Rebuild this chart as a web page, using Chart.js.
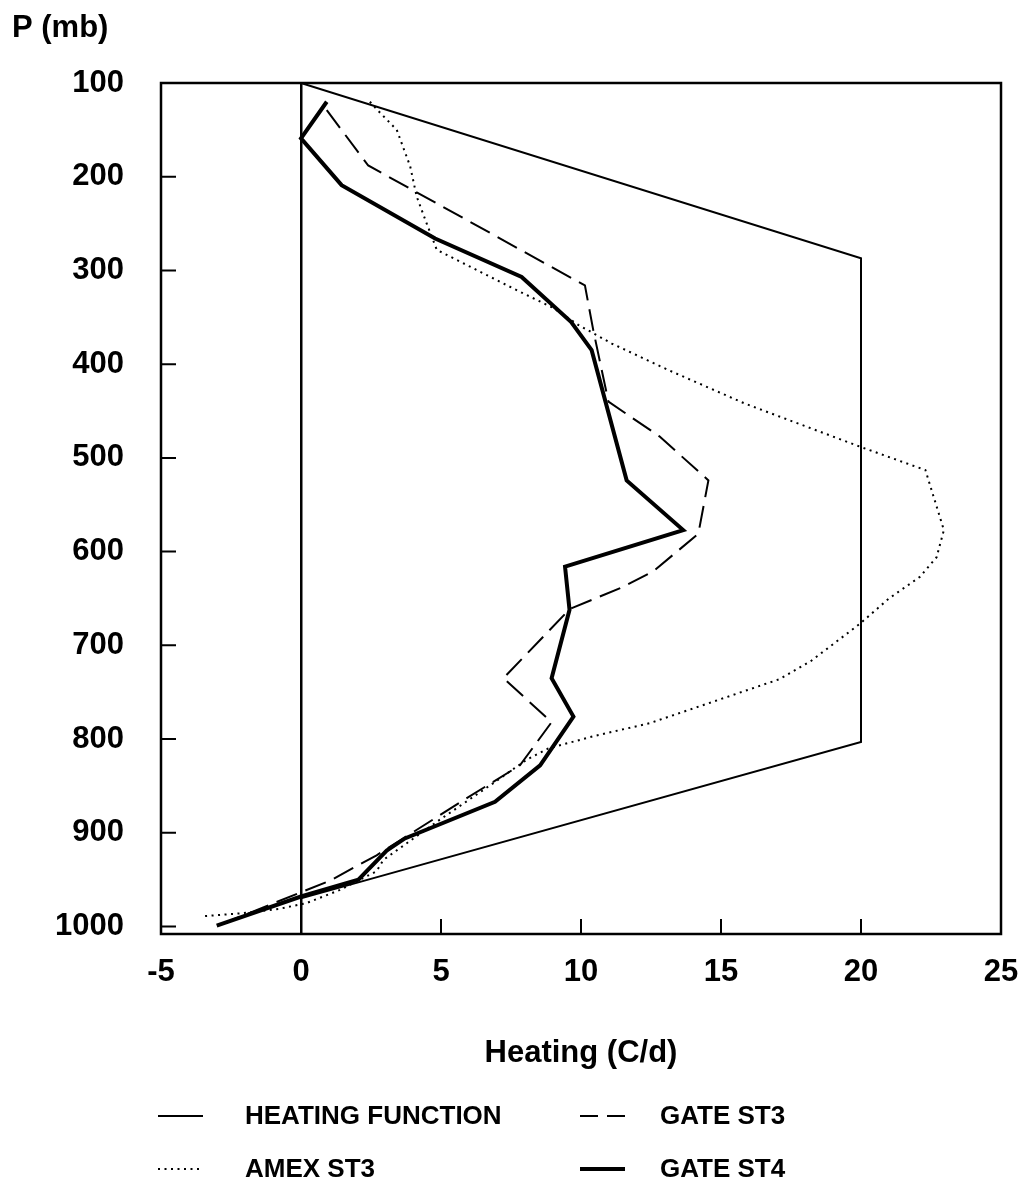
<!DOCTYPE html>
<html>
<head>
<meta charset="utf-8">
<script src="https://cdn.jsdelivr.net/npm/chart.js@4.4.1/dist/chart.umd.min.js"></script>
<style>
html,body{margin:0;padding:0;background:#fff;}
#wrap{width:1026px;height:1192px;position:relative;}
</style>
</head>
<body>
<div id="wrap"><canvas id="c"></canvas></div>
<script>
// ---- data (heating in C/d, pressure in mb) ----
const xTicks = [-5, 0, 5, 10, 15, 20, 25];
const yTicks = [100, 200, 300, 400, 500, 600, 700, 800, 900, 1000];

const seriesNames = ['HEATING FUNCTION', 'AMEX ST3', 'GATE ST3', 'GATE ST4'];

const heatX = [0, 20, 20, 0];
const heatP = [100, 287, 803, 970];

const amexX = [2.46, 2.8, 3.42, 3.9, 4.13, 4.49, 4.85, 6.04, 7.7, 9.01, 9.9, 11.1, 13.1, 15.85, 19.96, 22.3, 22.96, 22.7, 22.1, 21.0, 19.96, 18.2, 17.1, 12.46, 10.44, 8.83, 8.06, 6.87, 4.96, 2.94, 2.7, 1.39, 0.2, -0.75, -2.18, -3.49];
const amexP = [120, 131, 150, 189, 221, 250, 278, 296, 321, 340, 358, 378, 406, 442, 488, 513, 577, 606, 627, 650, 677, 717, 736, 783, 797, 810, 822, 847, 886, 929, 941, 961, 975, 981, 986, 989];

const gate3X = [0.92, 2.4, 10.14, 10.44, 10.98, 12.8, 14.55, 14.19, 12.58, 11.4, 9.61, 7.23, 8.95, 7.82, 5.92, 2.7, 1.04, -2.8];
const gate3P = [129, 188, 316, 364, 440, 477, 524, 581, 621, 639, 661, 735, 782, 828, 863, 924, 951, 997];

const gate4X = [0.92, 0, 1.45, 4.79, 7.88, 9.65, 10.38, 11.63, 13.65, 9.43, 9.59, 8.95, 9.73, 8.54, 6.93, 3.71, 3.06, 2.05, 0, -3.01];
const gate4P = [120, 159, 209, 266, 307, 355, 385, 524, 577, 616, 662, 735, 776, 828, 867, 906, 919, 950, 968, 999];

// ---- helpers ----
const FONT = '"Liberation Sans", Arial, Helvetica, sans-serif';
function pts(xs, ps) { return xs.map((x, i) => ({ x: x, y: ps[i] })); }

const styles = [
  { borderWidth: 2, borderDash: [], legendDash: [] },
  { borderWidth: 2, borderDash: [2, 4.5], legendDash: [2, 4.5] },
  { borderWidth: 2, borderDash: [22, 9], legendDash: [18, 9] },
  { borderWidth: 4, borderDash: [], legendDash: [] }
];

const datasets = [
  pts(heatX, heatP), pts(amexX, amexP), pts(gate3X, gate3P), pts(gate4X, gate4P)
].map((d, i) => ({
  label: seriesNames[i],
  data: d,
  borderColor: '#000',
  backgroundColor: '#000',
  borderWidth: styles[i].borderWidth,
  borderDash: styles[i].borderDash,
  legendDash: styles[i].legendDash,
  pointRadius: 0,
  pointHoverRadius: 0,
  tension: 0,
  fill: false
}));

const framePlugin = {
  id: 'frameTicksLegend',
  afterDraw(chart) {
    const ctx = chart.ctx;
    const a = chart.chartArea;
    const xs = chart.scales.x, ys = chart.scales.y;
    ctx.save();
    ctx.strokeStyle = '#000';
    ctx.setLineDash([]);
    // frame
    ctx.lineWidth = 2.5;
    ctx.strokeRect(a.left, a.top, a.right - a.left, a.bottom - a.top);
    // inward tick marks
    ctx.lineWidth = 2;
    ctx.beginPath();
    xTicks.forEach(v => {
      if (v <= xs.min || v >= xs.max) return;
      const px = xs.getPixelForValue(v);
      ctx.moveTo(px, a.bottom);
      ctx.lineTo(px, a.bottom - 15);
    });
    yTicks.forEach(v => {
      if (v <= ys.min) return;
      const py = ys.getPixelForValue(v);
      ctx.moveTo(a.left, py);
      ctx.lineTo(a.left + 15, py);
    });
    ctx.stroke();
    // legend (two columns)
    const layout = [
      { ds: 0, sx: 158, tx: 245, y: 1116 },
      { ds: 2, sx: 580, tx: 660, y: 1116 },
      { ds: 1, sx: 158, tx: 245, y: 1169 },
      { ds: 3, sx: 580, tx: 660, y: 1169 }
    ];
    ctx.font = 'bold 26px ' + FONT;
    ctx.textBaseline = 'middle';
    ctx.textAlign = 'left';
    ctx.fillStyle = '#000';
    layout.forEach(it => {
      const ds = chart.data.datasets[it.ds];
      ctx.lineWidth = ds.borderWidth;
      ctx.setLineDash(ds.legendDash);
      ctx.beginPath();
      ctx.moveTo(it.sx, it.y);
      ctx.lineTo(it.sx + 45, it.y);
      ctx.stroke();
      ctx.setLineDash([]);
      ctx.fillText(ds.label, it.tx, it.y + 1);
    });
    ctx.restore();
  }
};

new Chart(document.getElementById('c'), {
  type: 'line',
  data: { datasets: datasets },
  plugins: [framePlugin],
  options: {
    responsive: true,
    maintainAspectRatio: false,
    animation: false,
    devicePixelRatio: 1,
    layout: { padding: { left: 12, right: 25, top: 0, bottom: 0 } },
    plugins: {
      legend: { display: false },
      tooltip: { enabled: false },
      title: {
        display: true,
        text: 'P (mb)',
        align: 'start',
        color: '#000',
        font: { family: FONT, size: 31, weight: 'bold', lineHeight: 1.2 },
        padding: { top: 10, bottom: 35.8 }
      }
    },
    scales: {
      x: {
        type: 'linear',
        position: 'bottom',
        min: -5,
        max: 25,
        afterBuildTicks: s => { s.ticks = xTicks.map(v => ({ value: v })); },
        afterFit: s => { s.height = 258; s.paddingLeft = 0; s.paddingRight = 0; },
        border: { display: false },
        grid: {
          drawTicks: false,
          drawOnChartArea: true,
          color: c => (c.tick && c.tick.value === 0) ? '#000' : 'rgba(0,0,0,0)',
          lineWidth: 2.5
        },
        ticks: {
          color: '#000',
          padding: 20,
          maxRotation: 0,
          font: { family: FONT, size: 31, weight: 'bold' },
          callback: v => String(v)
        },
        title: {
          display: true,
          text: 'Heating (C/d)',
          color: '#000',
          font: { family: FONT, size: 31, weight: 'bold', lineHeight: 1.2 },
          padding: { top: 0, bottom: 120 }
        }
      },
      y: {
        type: 'linear',
        position: 'left',
        reverse: true,
        min: 100,
        max: 1008,
        afterBuildTicks: s => { s.ticks = yTicks.map(v => ({ value: v })); },
        afterFit: s => { s.width = 149; },
        border: { display: false },
        grid: { display: false, drawTicks: false },
        ticks: {
          color: '#000',
          padding: 37,
          font: { family: FONT, size: 31, weight: 'bold' },
          callback: v => String(v)
        }
      }
    }
  }
});
</script>
</body>
</html>
